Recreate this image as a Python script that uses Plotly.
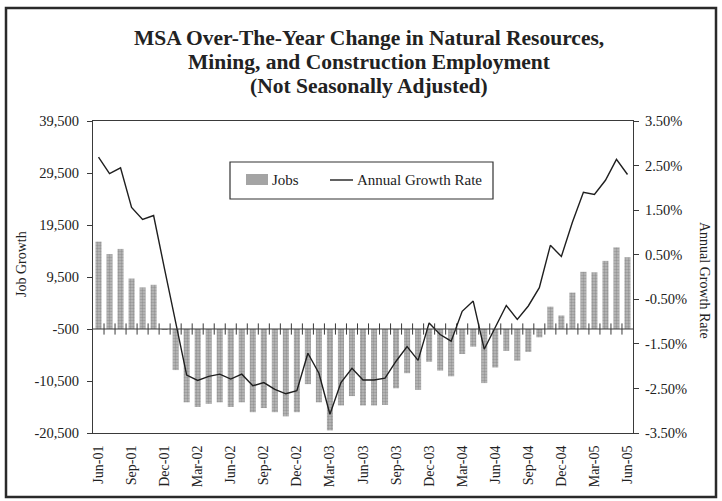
import plotly.graph_objects as go

months = ["Jun-01", "Jul-01", "Aug-01", "Sep-01", "Oct-01", "Nov-01", "Dec-01",
          "Jan-02", "Feb-02", "Mar-02", "Apr-02", "May-02", "Jun-02", "Jul-02",
          "Aug-02", "Sep-02", "Oct-02", "Nov-02", "Dec-02", "Jan-03", "Feb-03",
          "Mar-03", "Apr-03", "May-03", "Jun-03", "Jul-03", "Aug-03", "Sep-03",
          "Oct-03", "Nov-03", "Dec-03", "Jan-04", "Feb-04", "Mar-04", "Apr-04",
          "May-04", "Jun-04", "Jul-04", "Aug-04", "Sep-04", "Oct-04", "Nov-04",
          "Dec-04", "Jan-05", "Feb-05", "Mar-05", "Apr-05", "May-05", "Jun-05"]

jobs = [16300, 13900, 14900, 9200, 7500, 8000, -600,
        -8400, -14600, -15500, -14900, -14600, -15500, -14600,
        -16500, -15700, -16500, -17300, -16500, -11100, -14600,
        -20000, -15200, -13400, -15200, -15200, -15100, -11900,
        -9000, -12200, -6800, -8500, -9600, -5300, -3900,
        -10900, -7900, -4700, -6600, -4900, -2100, 3800,
        2100, 6500, 10500, 10400, 12600, 15200, 13300]

growth_rate = [2.69, 2.32, 2.45, 1.56, 1.29, 1.38, 0.17,
               -1.03, -2.20, -2.32, -2.23, -2.18, -2.29, -2.18,
               -2.44, -2.37, -2.52, -2.62, -2.55, -1.71, -2.16,
               -3.08, -2.37, -2.05, -2.31, -2.31, -2.27, -1.89,
               -1.56, -1.87, -1.03, -1.29, -1.44, -0.77, -0.54,
               -1.62, -1.14, -0.64, -0.95, -0.65, -0.24, 0.71,
               0.46, 1.23, 1.90, 1.85, 2.17, 2.64, 2.30]

left_ticks = [-20500, -10500, -500, 9500, 19500, 29500, 39500]
right_ticks = [-3.5, -2.5, -1.5, -0.5, 0.5, 1.5, 2.5, 3.5]
axis_cross = -500

title_lines = ["MSA Over-The-Year Change in Natural Resources,",
               "Mining, and Construction Employment",
               "(Not Seasonally Adjusted)"]
series_names = ["Jobs", "Annual Growth Rate"]

FONT = "Liberation Serif, Times New Roman, serif"
TXT = "#222222"
LINE = "#3a3a3a"

# plot-area geometry in pixels (for placing annotations)
PL, PR, PT, PB = 93, 633, 121, 433
PW, PH = PR - PL, PB - PT


def px(x):
    return (x - PL) / PW


def py(y):
    return (PB - y) / PH


idx = list(range(len(months)))
label_idx = idx[::3]

fig = go.Figure()

fig.add_trace(go.Bar(
    x=idx, y=[v - axis_cross for v in jobs], base=axis_cross,
    name=series_names[0], width=0.55, showlegend=False,
    marker=dict(color="#a8a8a8", line=dict(width=0),
                pattern=dict(shape=".", size=3, solidity=0.5,
                             fgcolor="#6f6f6f", bgcolor="#bcbcbc")),
    yaxis="y",
))

fig.add_trace(go.Scatter(
    x=idx, y=growth_rate, name=series_names[1], mode="lines",
    line=dict(color="#1f1f1f", width=1.4), yaxis="y2", showlegend=False,
))

# category boundary tick marks on the crossing axis line
bounds = [i - 0.5 for i in idx[1:]]
fig.add_trace(go.Scatter(
    x=bounds, y=[axis_cross] * len(bounds), mode="markers",
    marker=dict(symbol="line-ns", size=8, line=dict(color=LINE, width=1)),
    showlegend=False, hoverinfo="skip", yaxis="y",
))

shapes = [
    dict(type="line", xref="x", yref="y", x0=-0.5, x1=len(months) - 0.5,
         y0=axis_cross, y1=axis_cross, line=dict(color=LINE, width=1.2)),
    # outer frame
    dict(type="rect", xref="paper", yref="paper",
         x0=px(6), x1=px(716), y0=py(497), y1=py(8),
         line=dict(color="#2a2a2a", width=2.5), layer="below"),
    # legend box
    dict(type="rect", xref="paper", yref="paper",
         x0=px(230), x1=px(493), y0=py(199), y1=py(162),
         line=dict(color="#333333", width=1.2), fillcolor="white"),
    # legend bar swatch
    dict(type="rect", xref="paper", yref="paper",
         x0=px(246), x1=px(268), y0=py(185), y1=py(174),
         line=dict(width=0), fillcolor="#a4a4a4"),
    # legend line swatch
    dict(type="line", xref="paper", yref="paper",
         x0=px(330), x1=px(353), y0=py(180), y1=py(180),
         line=dict(color="#1f1f1f", width=1.4)),
]

annotations = [
    dict(text=series_names[0], xref="paper", yref="paper", x=px(270), y=py(180),
         xanchor="left", yanchor="middle", showarrow=False,
         font=dict(family=FONT, size=15, color=TXT)),
    dict(text=series_names[1], xref="paper", yref="paper", x=px(355), y=py(180),
         xanchor="left", yanchor="middle", showarrow=False,
         font=dict(family=FONT, size=15, color=TXT)),
    dict(text="Job Growth", xref="paper", yref="paper",
         x=px(21), y=py(264), textangle=-90,
         showarrow=False, xanchor="center", yanchor="middle",
         font=dict(family=FONT, size=14, color=TXT)),
    dict(text="Annual Growth Rate", xref="paper", yref="paper",
         x=px(705), y=py(280), textangle=90,
         showarrow=False, xanchor="center", yanchor="middle",
         font=dict(family=FONT, size=14, color=TXT)),
]
for line_text, ypix in zip(title_lines, [38, 62, 86]):
    annotations.append(dict(
        text=f"<b>{line_text}</b>", xref="paper", yref="paper",
        x=px(369), y=py(ypix), xanchor="center", yanchor="middle",
        showarrow=False, font=dict(family=FONT, size=21.5, color=TXT)))

fig.update_layout(
    width=722, height=501,
    margin=dict(l=PL, r=722 - PR, t=PT, b=501 - PB),
    paper_bgcolor="white", plot_bgcolor="white",
    font=dict(family=FONT, color=TXT, size=14),
    showlegend=False,
    bargap=0.45,
    shapes=shapes,
    annotations=annotations,
    xaxis=dict(
        range=[-0.5, len(months) - 0.5],
        tickmode="array", tickvals=label_idx,
        ticktext=[months[i] for i in label_idx],
        tickangle=-90, ticks="", showgrid=False, zeroline=False,
        showline=True, linecolor=LINE, linewidth=1, mirror=True,
        ticklabelstandoff=6,
        tickfont=dict(family=FONT, size=14, color=TXT),
    ),
    yaxis=dict(
        range=[left_ticks[0], left_ticks[-1]],
        tickmode="array", tickvals=left_ticks,
        ticktext=[f"{v:,}" for v in left_ticks],
        ticks="outside", ticklen=5, tickcolor=LINE,
        ticklabelstandoff=5,
        showgrid=False, zeroline=False,
        showline=True, linecolor=LINE, linewidth=1,
        tickfont=dict(family=FONT, size=14.5, color=TXT),
    ),
    yaxis2=dict(
        range=[right_ticks[0], right_ticks[-1]], overlaying="y", side="right",
        tickmode="array", tickvals=right_ticks,
        ticktext=[f"{v:.2f}%" for v in right_ticks],
        ticks="outside", ticklen=5, tickcolor=LINE,
        ticklabelstandoff=3,
        showgrid=False, zeroline=False,
        showline=True, linecolor=LINE, linewidth=1,
        tickfont=dict(family=FONT, size=14.5, color=TXT),
    ),
)

fig.write_html("out.html",
               config={"displayModeBar": False},
               post_script="document.body.style.margin='0';"
                           "document.body.style.overflow='hidden';")
